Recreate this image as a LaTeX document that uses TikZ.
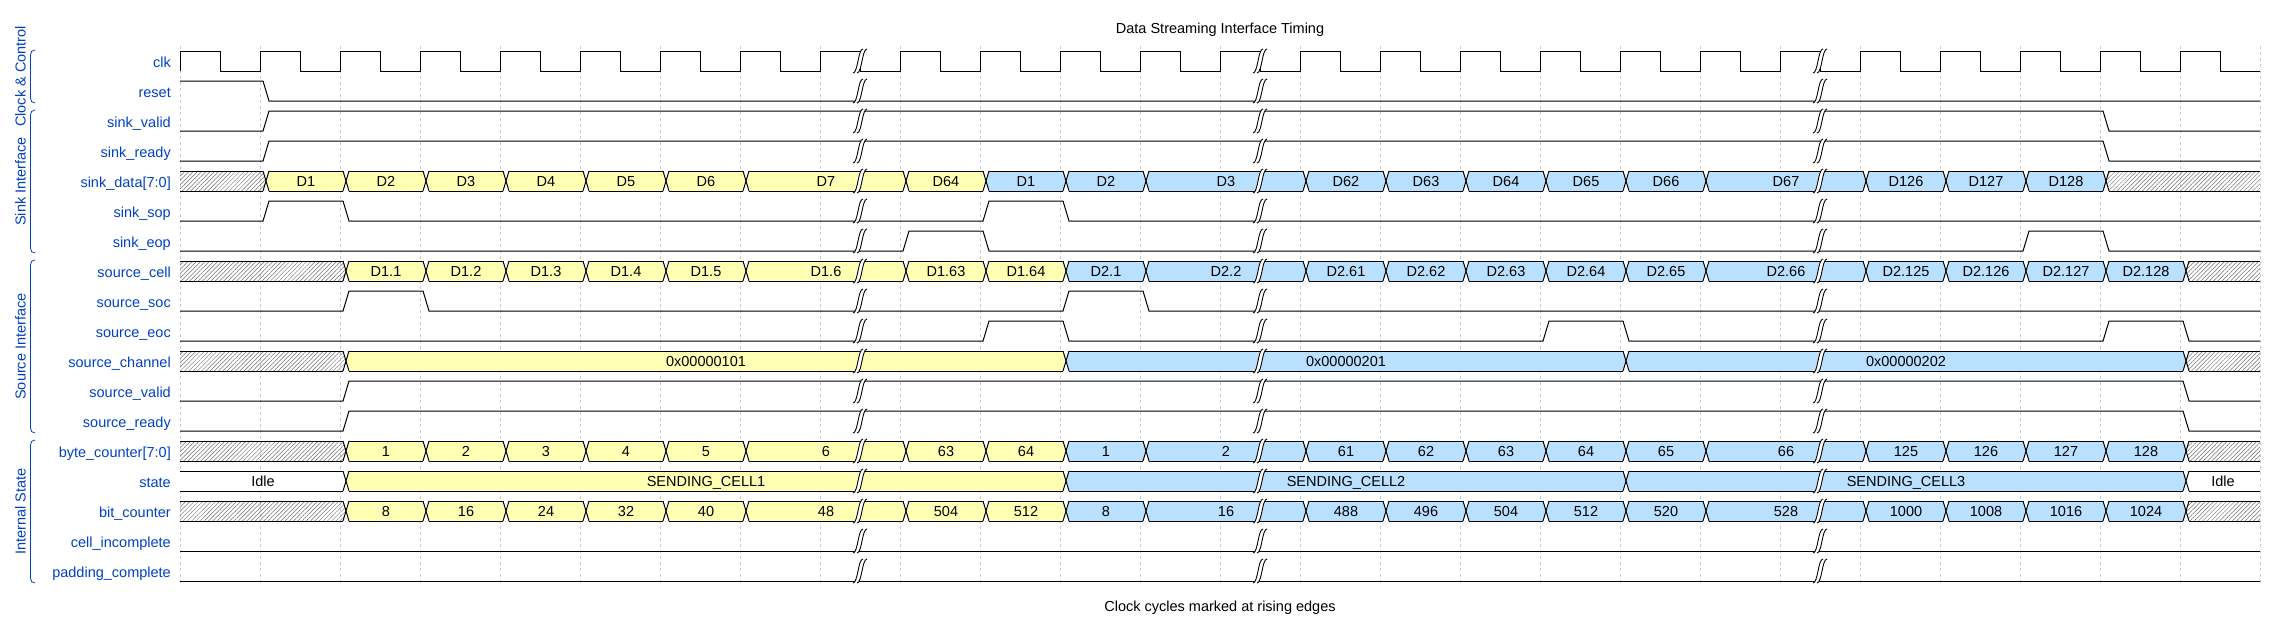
\documentclass[tikz,border=0pt]{standalone}
\usepackage{fontspec}
\setmainfont{Liberation Sans}
\usepackage{xcolor}
\definecolor{LabelBlue}{RGB}{0,65,196}
\definecolor{BusYellow}{RGB}{255,255,180}
\definecolor{BusBlue}{RGB}{185,224,255}
\definecolor{GridGray}{RGB}{204,204,204}
\definecolor{HatchGray}{RGB}{110,110,110}
\usepackage{tikz}
\usetikzlibrary{
  positioning,
  patterns.meta
}
\tikzset{
  % Wave lines
  wave/.style={
    draw=black,
    line width=1pt
  },
  % Gap strokes
  gapline/.style={
    draw=black,
    line width=0.9pt
  },
  % Dashed grid at rising edges
  gridline/.style={
    draw=GridGray,
    line width=0.6pt,
    dash pattern=on 3pt off 3pt
  },
  % Bus fills
  busyel/.style={fill=BusYellow},
  busblu/.style={fill=BusBlue},
  buswht/.style={fill=white},
  bushatch/.style={
    pattern={Lines[angle=45,distance=3pt,line width=0.5pt]},
    pattern color=HatchGray
  },
  % Texts
  bustext/.style={
    anchor=base,
    inner sep=0pt,
    font=\fontsize{14.5}{17}\selectfont
  },
  siglabel/.style={
    anchor=base east,
    inner sep=0pt,
    text=LabelBlue,
    font=\fontsize{14.5}{17}\selectfont
  },
  grouptext/.style={
    anchor=base,
    rotate=90,
    inner sep=0pt,
    text=LabelBlue,
    font=\fontsize{14.5}{17}\selectfont
  },
  groupline/.style={
    draw=LabelBlue,
    line width=0.8pt
  },
  caption/.style={
    anchor=base,
    inner sep=0pt,
    font=\fontsize{14.5}{17}\selectfont
  }
}

% Low signal with high pulses: #1 row, #2 list of from/to cycles
\newcommand{\pulses}[2]{%
  \pgfmathsetmacro\rowy{61+30*#1}%
  \draw[wave] (180,\rowy+10) \foreach \a/\b in {#2} {
    -- ({180+80*\a+3},\rowy+10) -- ({180+80*\a+9},\rowy-10)
    -- ({180+80*\b+3},\rowy-10) -- ({180+80*\b+9},\rowy+10)
  } -- (2260,\rowy+10);
}

% Bus value: #1 row, #2 from cycle, #3 to cycle, #4 fill style, #5 text
\newcommand{\busseg}[5]{%
  \pgfmathsetmacro\rowy{61+30*#1}%
  \pgfmathsetmacro\xa{#2==0 ? 180 : 180+80*#2+6}%
  \pgfmathsetmacro\xb{#2==0 ? 180 : 180+80*#2+9}%
  \pgfmathsetmacro\xc{#3==26 ? 2260 : 180+80*#3+3}%
  \pgfmathsetmacro\xd{#3==26 ? 2260 : 180+80*#3+6}%
  \path[#4] (\xa,\rowy) -- (\xb,\rowy-10) -- (\xc,\rowy-10) -- (\xd,\rowy)
    -- (\xc,\rowy+10) -- (\xb,\rowy+10) -- cycle;
  \draw[wave] (\xb,\rowy-10) -- (\xc,\rowy-10) (\xb,\rowy+10) -- (\xc,\rowy+10);
  \ifnum#2>0\relax \draw[wave] (\xb,\rowy-10) -- (\xa,\rowy) -- (\xb,\rowy+10);\fi
  \ifnum#3<26\relax \draw[wave] (\xc,\rowy-10) -- (\xd,\rowy) -- (\xc,\rowy+10);\fi
  \node[bustext] (d#1-#2) at ({(\xa+\xd)/2},\rowy+5.5) {#5};
}

% Break mark: #1 x, #2 top of row
\newcommand{\gapmark}[2]{%
  \fill[white] ({#1+7},{#2-2}) -- ({#1+3},{#2-2})
    .. controls ({#1-2},{#2-2}) and ({#1-2},{#2+22}) .. ({#1-7},{#2+22})
    -- ({#1-3},{#2+22})
    .. controls ({#1+2},{#2+22}) and ({#1+2},{#2-2}) .. ({#1+7},{#2-2}) -- cycle;
  \draw[gapline] ({#1-7},{#2+22}) .. controls ({#1-2},{#2+22}) and ({#1-2},{#2-2}) .. ({#1+3},{#2-2});
  \draw[gapline] ({#1-3},{#2+22}) .. controls ({#1+2},{#2+22}) and ({#1+2},{#2-2}) .. ({#1+7},{#2-2});
}

\begin{document}
\begin{tikzpicture}[x=1pt, y=-1pt]
  \useasboundingbox (0,0) rectangle (2280,632);
  % Grid at rising edges
  \foreach \k in {0,...,26} {
    \draw[gridline] ({180+80*\k},46) -- ({180+80*\k},586);
  }
  % Title and footer
  \node[caption] (title) at (1220,33.5) {Data Streaming Interface Timing};
  \node[caption] (footer) at (1220,611.5) {Clock cycles marked at rising edges};
  % Signal names
  \foreach \i/\t in {0/clk, 1/reset, 2/sink\_valid, 3/sink\_ready, 4/sink\_data[7:0],
      5/sink\_sop, 6/sink\_eop, 7/source\_cell, 8/source\_soc, 9/source\_eoc,
      10/source\_channel, 11/source\_valid, 12/source\_ready, 13/byte\_counter[7:0],
      14/state, 15/bit\_counter, 16/cell\_incomplete, 17/padding\_complete} {
    \node[siglabel] (lbl\i) at (171,{61+30*\i+6}) {\t};
  }
  % Groups
  \foreach \ta/\tb/\gname in {50/103/Clock \& Control, 110/253/Sink Interface,
      260/433/Source Interface, 440/583/Internal State} {
    \draw[groupline] (35,\ta) .. controls (32,\ta) and (30.5,\ta+2) .. (30.5,\ta+5)
      -- (30.5,\tb-5) .. controls (30.5,\tb-2) and (32,\tb) .. (35,\tb);
    \node[grouptext] (grp\ta) at (25.5,{(\ta+\tb)/2}) {\gname};
  }
  % Clock
  \draw[wave] (180,71) \foreach \k in {0,...,25} {
    -- ({180+80*\k},51) -- ({220+80*\k},51) -- ({220+80*\k},71) -- ({260+80*\k},71)
  };
  % Reset
  \draw[wave] (180,81) -- (263,81) -- (269,101) -- (2260,101);
  % Control lines
  \pulses{2}{1/24}
  \pulses{3}{1/24}
  \pulses{5}{1/2, 10/11}
  \pulses{6}{9/10, 23/24}
  \pulses{8}{2/3, 11/12}
  \pulses{9}{10/11, 17/18, 24/25}
  \pulses{11}{2/25}
  \pulses{12}{2/25}
  \draw[wave] (180,551) -- (2260,551);
  \draw[wave] (180,581) -- (2260,581);
  % sink_data
  \foreach \a/\b/\s/\t in {0/1/bushatch/{}, 1/2/busyel/D1, 2/3/busyel/D2, 3/4/busyel/D3,
      4/5/busyel/D4, 5/6/busyel/D5, 6/7/busyel/D6, 7/9/busyel/D7, 9/10/busyel/D64,
      10/11/busblu/D1, 11/12/busblu/D2, 12/14/busblu/D3, 14/15/busblu/D62,
      15/16/busblu/D63, 16/17/busblu/D64, 17/18/busblu/D65, 18/19/busblu/D66,
      19/21/busblu/D67, 21/22/busblu/D126, 22/23/busblu/D127, 23/24/busblu/D128,
      24/26/bushatch/{}} {
    \busseg{4}{\a}{\b}{\s}{\t}
  }
  % source_cell
  \foreach \a/\b/\s/\t in {0/2/bushatch/{}, 2/3/busyel/D1.1, 3/4/busyel/D1.2,
      4/5/busyel/D1.3, 5/6/busyel/D1.4, 6/7/busyel/D1.5, 7/9/busyel/D1.6,
      9/10/busyel/D1.63, 10/11/busyel/D1.64, 11/12/busblu/D2.1, 12/14/busblu/D2.2,
      14/15/busblu/D2.61, 15/16/busblu/D2.62, 16/17/busblu/D2.63, 17/18/busblu/D2.64,
      18/19/busblu/D2.65, 19/21/busblu/D2.66, 21/22/busblu/D2.125, 22/23/busblu/D2.126,
      23/24/busblu/D2.127, 24/25/busblu/D2.128, 25/26/bushatch/{}} {
    \busseg{7}{\a}{\b}{\s}{\t}
  }
  % source_channel
  \foreach \a/\b/\s/\t in {0/2/bushatch/{}, 2/11/busyel/0x00000101,
      11/18/busblu/0x00000201, 18/25/busblu/0x00000202, 25/26/bushatch/{}} {
    \busseg{10}{\a}{\b}{\s}{\t}
  }
  % byte_counter
  \foreach \a/\b/\s/\t in {0/2/bushatch/{}, 2/3/busyel/1, 3/4/busyel/2, 4/5/busyel/3,
      5/6/busyel/4, 6/7/busyel/5, 7/9/busyel/6, 9/10/busyel/63, 10/11/busyel/64,
      11/12/busblu/1, 12/14/busblu/2, 14/15/busblu/61, 15/16/busblu/62, 16/17/busblu/63,
      17/18/busblu/64, 18/19/busblu/65, 19/21/busblu/66, 21/22/busblu/125,
      22/23/busblu/126, 23/24/busblu/127, 24/25/busblu/128, 25/26/bushatch/{}} {
    \busseg{13}{\a}{\b}{\s}{\t}
  }
  % state
  \foreach \a/\b/\s/\t in {0/2/buswht/Idle, 2/11/busyel/SENDING\_CELL1,
      11/18/busblu/SENDING\_CELL2, 18/25/busblu/SENDING\_CELL3, 25/26/buswht/Idle} {
    \busseg{14}{\a}{\b}{\s}{\t}
  }
  % bit_counter
  \foreach \a/\b/\s/\t in {0/2/bushatch/{}, 2/3/busyel/8, 3/4/busyel/16, 4/5/busyel/24,
      5/6/busyel/32, 6/7/busyel/40, 7/9/busyel/48, 9/10/busyel/504, 10/11/busyel/512,
      11/12/busblu/8, 12/14/busblu/16, 14/15/busblu/488, 15/16/busblu/496,
      16/17/busblu/504, 17/18/busblu/512, 18/19/busblu/520, 19/21/busblu/528,
      21/22/busblu/1000, 22/23/busblu/1008, 23/24/busblu/1016, 24/25/busblu/1024,
      25/26/bushatch/{}} {
    \busseg{15}{\a}{\b}{\s}{\t}
  }
  % Breaks
  \foreach \r in {0,...,17} {
    \foreach \g in {860,1260,1820} {
      \pgfmathsetmacro\rowtop{51+30*\r}
      \gapmark{\g}{\rowtop}
    }
  }
\end{tikzpicture}
\end{document}
